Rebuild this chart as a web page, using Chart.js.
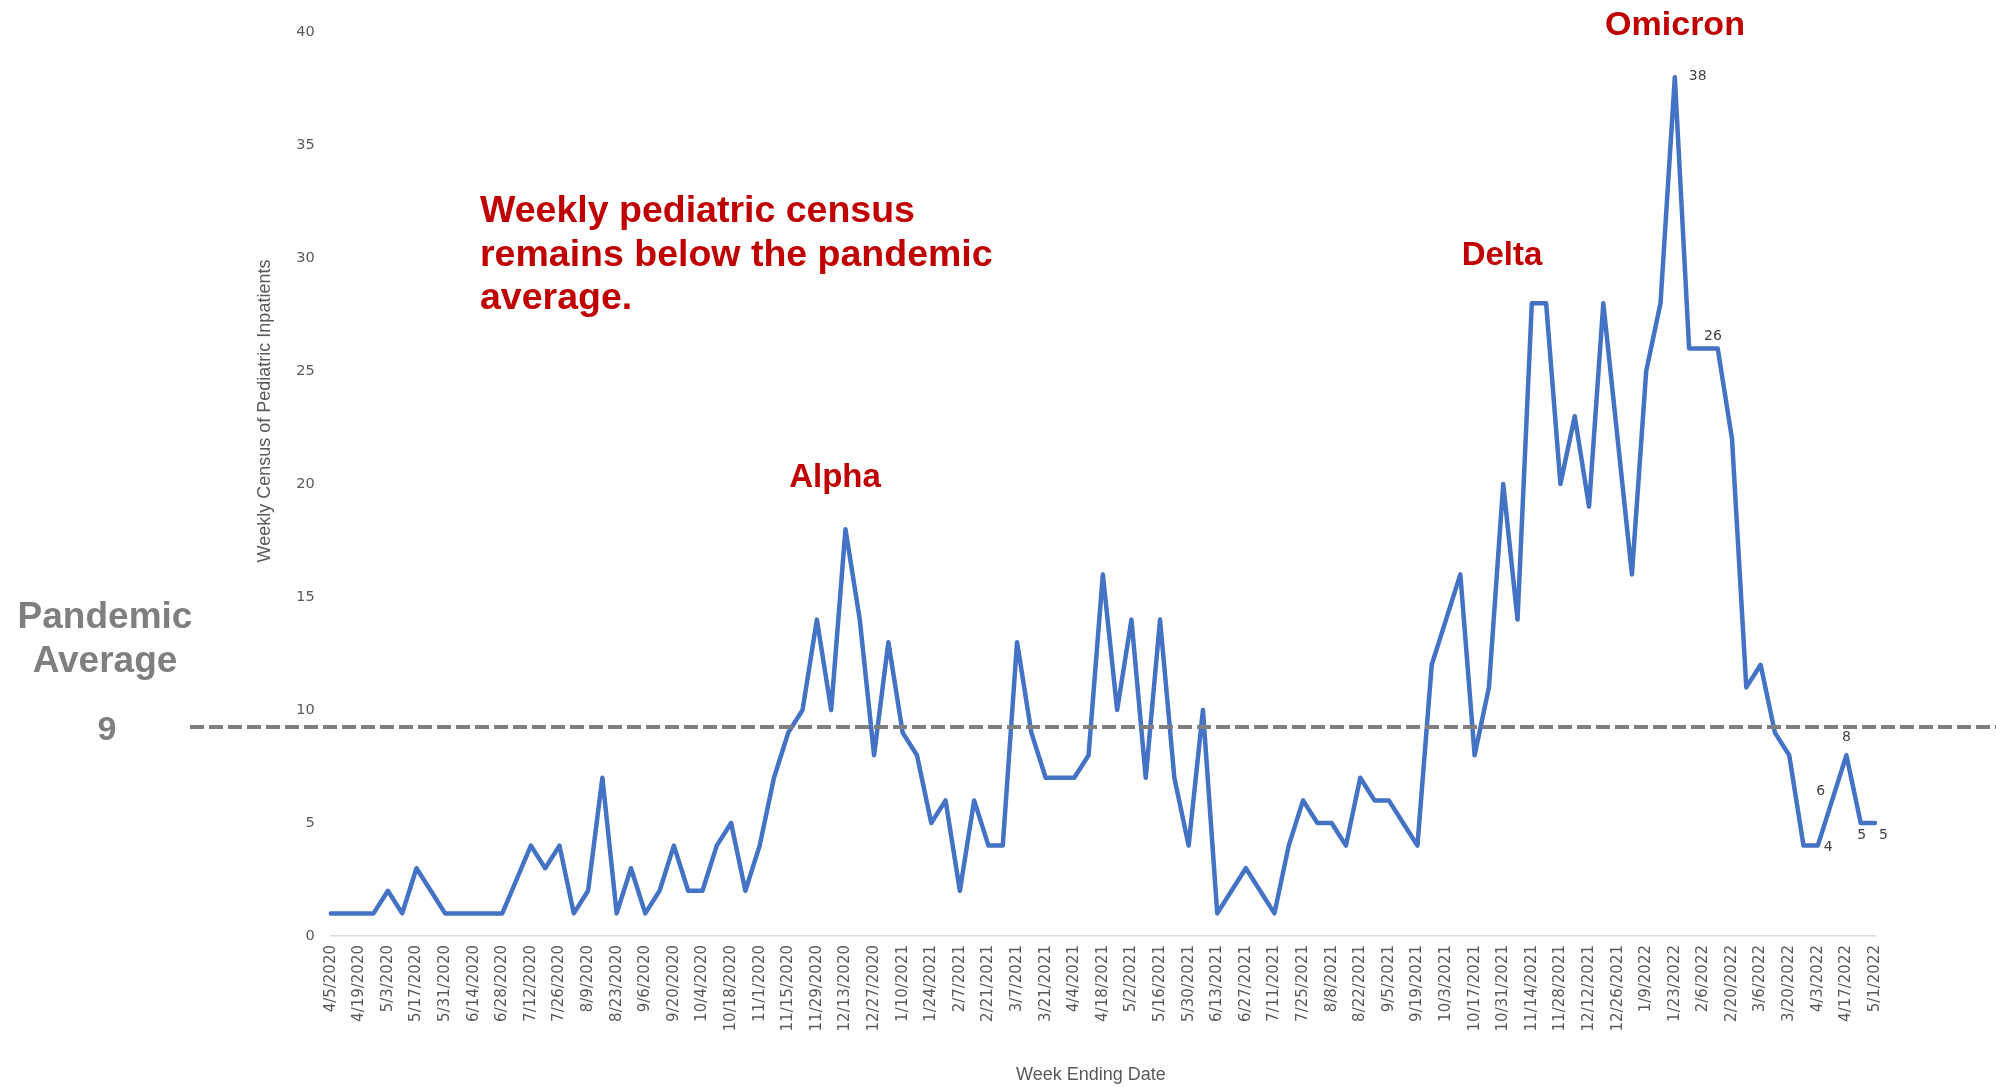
<!DOCTYPE html>
<html>
<head>
<meta charset="utf-8">
<title>Weekly Census of Pediatric Inpatients</title>
<script src="https://cdn.jsdelivr.net/npm/chart.js@4.4.1/dist/chart.umd.min.js"></script>
<style>
  html, body { margin: 0; padding: 0; background: #ffffff; }
  canvas { display: block; }
</style>
</head>
<body>
<canvas id="census" width="1996" height="1087" style="width:1996px;height:1087px"></canvas>
<script>
// Week ending dates (Sunday) for every week in the series
const weekEnding = [
  '4/5/2020','4/12/2020','4/19/2020','4/26/2020','5/3/2020','5/10/2020','5/17/2020','5/24/2020','5/31/2020',
  '6/7/2020','6/14/2020','6/21/2020','6/28/2020','7/5/2020','7/12/2020','7/19/2020','7/26/2020','8/2/2020',
  '8/9/2020','8/16/2020','8/23/2020','8/30/2020','9/6/2020','9/13/2020','9/20/2020','9/27/2020','10/4/2020',
  '10/11/2020','10/18/2020','10/25/2020','11/1/2020','11/8/2020','11/15/2020','11/22/2020','11/29/2020',
  '12/6/2020','12/13/2020','12/20/2020','12/27/2020',
  '1/3/2021','1/10/2021','1/17/2021','1/24/2021','1/31/2021','2/7/2021','2/14/2021','2/21/2021','2/28/2021',
  '3/7/2021','3/14/2021','3/21/2021','3/28/2021','4/4/2021','4/11/2021','4/18/2021','4/25/2021','5/2/2021',
  '5/9/2021','5/16/2021','5/23/2021','5/30/2021','6/6/2021','6/13/2021','6/20/2021','6/27/2021','7/4/2021',
  '7/11/2021','7/18/2021','7/25/2021','8/1/2021','8/8/2021','8/15/2021','8/22/2021','8/29/2021','9/5/2021',
  '9/12/2021','9/19/2021','9/26/2021','10/3/2021','10/10/2021','10/17/2021','10/24/2021','10/31/2021',
  '11/7/2021','11/14/2021','11/21/2021','11/28/2021','12/5/2021','12/12/2021','12/19/2021','12/26/2021',
  '1/2/2022','1/9/2022','1/16/2022','1/23/2022','1/30/2022','2/6/2022','2/13/2022','2/20/2022','2/27/2022',
  '3/6/2022','3/13/2022','3/20/2022','3/27/2022','4/3/2022','4/10/2022','4/17/2022','4/24/2022','5/1/2022'
];

// Weekly census of pediatric inpatients
const census = [
  1, 1, 1, 1, 2, 1, 3, 2, 1, 1, 1, 1, 1,
  2.5,
  4, 3, 4, 1, 2, 7, 1,
  3, 1, 2, 4, 2, 2, 4, 5, 2, 4, 7, 9, 10, 14, 10, 18, 14, 8, 13, 9, 8,
  5, 6, 2, 6, 4, 4, 13, 9, 7, 7, 7, 8, 16, 10, 14, 7, 14, 7, 4, 10, 1,
  2, 3, 2, 1, 4, 6, 5, 5, 4, 7, 6, 6, 5, 4, 12, 14, 16, 8, 11,
  20, 14, 28, 28, 20, 23, 19, 28, 22, 16, 25, 28, 38,
  26, 26, 26, 22, 11, 12, 9, 8, 4, 4, 6, 8, 5, 5
];

// Average weekly census over the whole pandemic
const pandemicAverage = 9.25;

// y-axis tick values
const yTicks = [0, 5, 10, 15, 20, 25, 30, 35, 40];

// Weeks whose value is printed next to the line
const labelledWeeks = [94, 95, 104, 105, 106, 107, 108];

// Variant wave names
const waveNames = ['Alpha', 'Delta', 'Omicron'];

const SANS = '"Liberation Sans", Arial, sans-serif';
const TICK_FONT = '"DejaVu Sans", Verdana, sans-serif';

// Placement of each printed value relative to its point
const labelPlacement = {
  94:  { dx: 14, dy: -1,  align: 'left'   },
  95:  { dx: 15, dy: -12, align: 'left'   },
  104: { dx: 6,  dy: 2,   align: 'left'   },
  105: { dx: -7, dy: -9,  align: 'right'  },
  106: { dx: 0,  dy: -18, align: 'center' },
  107: { dx: 1,  dy: 12,  align: 'center' },
  108: { dx: 4,  dy: 12,  align: 'left'   }
};

const overlay = {
  id: 'overlay',
  afterDatasetsDraw(chart) {
    const { ctx, scales: { x, y } } = chart;
    ctx.save();

    // pandemic average reference line
    const avgY = y.getPixelForValue(pandemicAverage);
    ctx.strokeStyle = '#7f7f7f';
    ctx.lineWidth = 4;
    ctx.setLineDash([14, 5]);
    ctx.beginPath();
    ctx.moveTo(190, avgY);
    ctx.lineTo(chart.width, avgY);
    ctx.stroke();
    ctx.setLineDash([]);

    // value labels on the latest weeks
    ctx.fillStyle = '#404040';
    ctx.font = '14px ' + TICK_FONT;
    ctx.textBaseline = 'middle';
    labelledWeeks.forEach(i => {
      const p = labelPlacement[i];
      ctx.textAlign = p.align;
      ctx.fillText(String(census[i]), x.getPixelForValue(i) + p.dx, y.getPixelForValue(census[i]) + p.dy);
    });

    // pandemic average caption
    ctx.fillStyle = '#7f7f7f';
    ctx.textAlign = 'center';
    ctx.textBaseline = 'alphabetic';
    ctx.font = 'bold 37px ' + SANS;
    ctx.fillText('Pandemic', 105, 628);
    ctx.fillText('Average', 105, 672);
    ctx.font = 'bold 34px ' + SANS;
    ctx.fillText(String(Math.round(pandemicAverage)), 107, 740);

    // headline
    ctx.fillStyle = '#c00000';
    ctx.textAlign = 'left';
    ctx.font = 'bold 37.5px ' + SANS;
    ctx.fillText('Weekly pediatric census', 480, 222);
    ctx.fillText('remains below the pandemic', 480, 266);
    ctx.fillText('average.', 480, 309);

    // wave names
    ctx.textAlign = 'center';
    ctx.font = 'bold 33px ' + SANS;
    ctx.fillText(waveNames[0], 835, 487);
    ctx.fillText(waveNames[1], 1502, 265);
    ctx.font = 'bold 34px ' + SANS;
    ctx.fillText(waveNames[2], 1675, 35);

    // axis titles
    ctx.fillStyle = '#595959';
    ctx.font = '18px ' + SANS;
    ctx.textBaseline = 'middle';
    ctx.fillText('Week Ending Date', 1091, 1075);
    ctx.translate(265, 411);
    ctx.rotate(-Math.PI / 2);
    ctx.fillText('Weekly Census of Pediatric Inpatients', 0, 0);

    ctx.restore();
  }
};

new Chart(document.getElementById('census'), {
  type: 'line',
  data: {
    labels: weekEnding,
    datasets: [{
      data: census,
      borderColor: '#4472c4',
      borderWidth: 4.5,
      borderJoinStyle: 'round',
      borderCapStyle: 'round',
      pointRadius: 0,
      tension: 0,
      fill: false
    }]
  },
  options: {
    responsive: false,
    animation: false,
    devicePixelRatio: 1,
    layout: { padding: { left: 0, right: 121, top: 32, bottom: 0 } },
    plugins: {
      legend: { display: false },
      tooltip: { enabled: false }
    },
    scales: {
      x: {
        offset: false,
        grid: { display: false, drawTicks: false },
        border: { display: true, color: '#d9d9d9', width: 1.5 },
        ticks: {
          autoSkip: false,
          maxRotation: 90,
          minRotation: 90,
          padding: 9,
          color: '#595959',
          font: { family: TICK_FONT, size: 15 },
          callback: (v, i) => (i % 2 === 0 ? weekEnding[i] : '')
        },
        afterFit(scale) { scale.height = 151; }
      },
      y: {
        min: yTicks[0],
        max: yTicks[yTicks.length - 1],
        afterBuildTicks(scale) { scale.ticks = yTicks.map(v => ({ value: v })); },
        grid: { display: false, drawTicks: false },
        border: { display: false },
        ticks: {
          padding: 16,
          color: '#595959',
          font: { family: TICK_FONT, size: 14.5 }
        },
        afterFit(scale) { scale.width = 330.7; }
      }
    }
  },
  plugins: [overlay]
});
</script>
</body>
</html>
